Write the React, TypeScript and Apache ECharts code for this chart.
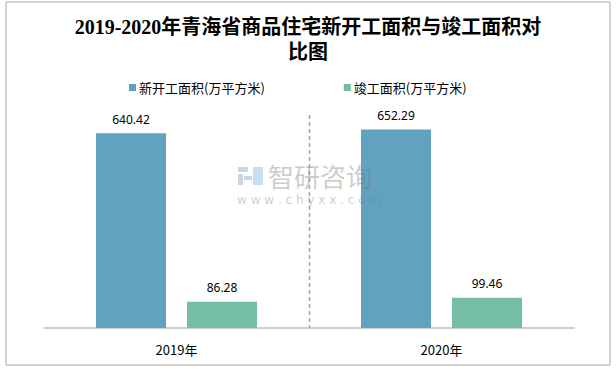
import React, { useEffect, useRef } from "react";
import * as echarts from "echarts";

const titleLines = ["2019-2020年青海省商品住宅新开工面积与竣工面积对", "比图"];
const categories = ["2019年", "2020年"];
const seriesNames = ["新开工面积(万平方米)", "竣工面积(万平方米)"];
const newStartValues = [640.42, 652.29];
const completedValues = [86.28, 99.46];
const seriesColors = ["#62a2c1", "#75bda6"];
const yMax = 700;

export default function App() {
  const ref = useRef<HTMLDivElement>(null);
  useEffect(() => {
    if (!ref.current) return;
    const chart = echarts.init(ref.current, null, { renderer: "svg" });
    const cjk = "'Noto Sans CJK SC', 'Noto Sans', sans-serif";
    const labelStyle = {
      show: true,
      position: "top",
      distance: 8,
      fontFamily: "'Noto Sans', sans-serif",
      fontSize: 12,
      color: "#000000",
    };
    chart.setOption({
      animation: false,
      backgroundColor: "#ffffff",
      title: {
        text: titleLines.join("\n"),
        left: "center",
        top: 9,
        textStyle: {
          fontFamily: "'Liberation Serif', 'Noto Sans CJK SC', serif",
          fontWeight: "bold",
          fontSize: 20,
          lineHeight: 25,
          color: "#000000",
        },
      },
      legend: {
        left: 124,
        top: 76,
        itemWidth: 7,
        itemHeight: 7,
        itemGap: 79,
        icon: "rect",
        textStyle: { fontFamily: cjk, fontSize: 13, color: "#000000", padding: [0, 0, 0, -2] },
        data: seriesNames,
      },
      grid: { left: 44, right: 42, top: 115, bottom: 41 },
      xAxis: {
        type: "category",
        data: categories,
        boundaryGap: true,
        axisLine: { show: true, lineStyle: { color: "#bfbfbf", width: 1.5 } },
        axisTick: { show: false },
        axisLabel: { fontFamily: cjk, fontSize: 13, color: "#000000", margin: 15 },
        splitLine: { show: false },
      },
      yAxis: {
        type: "value",
        min: 0,
        max: yMax,
        interval: 100,
        show: false,
        splitLine: { show: false },
      },
      series: [
        {
          name: seriesNames[0],
          type: "bar",
          data: newStartValues,
          barWidth: 70,
          barGap: "30%",
          itemStyle: { color: seriesColors[0] },
          label: labelStyle,
        },
        {
          name: seriesNames[1],
          type: "bar",
          data: completedValues,
          barWidth: 70,
          barGap: "30%",
          itemStyle: { color: seriesColors[1] },
          label: labelStyle,
        },
      ],
    });

    // divider between the two categories, positioned from the axis scale
    const p0 = chart.convertToPixel({ gridIndex: 0 }, [0, 0]) as number[];
    const p1 = chart.convertToPixel({ gridIndex: 0 }, [1, yMax]) as number[];
    const divX = Math.round((p0[0] + p1[0]) / 2) + 0.5;
    const wm = "rgba(120,120,120,0.38)";

    chart.setOption({
      graphic: [
        {
          type: "line",
          silent: true,
          z: 1,
          shape: { x1: divX, y1: p1[1], x2: divX, y2: p0[1] },
          style: { stroke: "#a8a8a8", lineWidth: 1.5, lineDash: [4, 3] },
        },
        {
          type: "rect",
          shape: { x: 6, y: 2, width: 604, height: 363 },
          style: { fill: "none", stroke: "#a6a6a6", lineWidth: 1 },
          silent: true,
          z: 0,
        },
        { type: "rect", z: 100, silent: true, shape: { x: 238, y: 167, width: 10, height: 5 }, style: { fill: "rgba(170,185,215,0.6)" } },
        { type: "rect", z: 100, silent: true, shape: { x: 238, y: 174, width: 5, height: 11 }, style: { fill: "rgba(170,185,215,0.6)" } },
        { type: "rect", z: 100, silent: true, shape: { x: 244, y: 176, width: 8, height: 4 }, style: { fill: "rgba(170,185,215,0.6)" } },
        { type: "rect", z: 100, silent: true, shape: { x: 253, y: 167, width: 10, height: 18 }, style: { fill: "rgba(150,195,230,0.55)" } },
        {
          type: "text",
          z: 100,
          silent: true,
          x: 268,
          y: 175,
          style: {
            text: "智研咨询",
            fontFamily: cjk,
            fontSize: 26,
            fill: wm,
            verticalAlign: "middle",
          },
        },
        {
          type: "text",
          z: 100,
          silent: true,
          x: 237,
          y: 200,
          style: {
            text: "w w w . c h y x x . c o m",
            fontFamily: "'DejaVu Sans', sans-serif",
            fontSize: 12,
            fill: wm,
            verticalAlign: "middle",
          },
        },
      ],
    });
    return () => chart.dispose();
  }, []);
  return (
    <div
      ref={ref}
      style={{ position: "fixed", left: 0, top: 0, width: 616, height: 369 }}
    />
  );
}
